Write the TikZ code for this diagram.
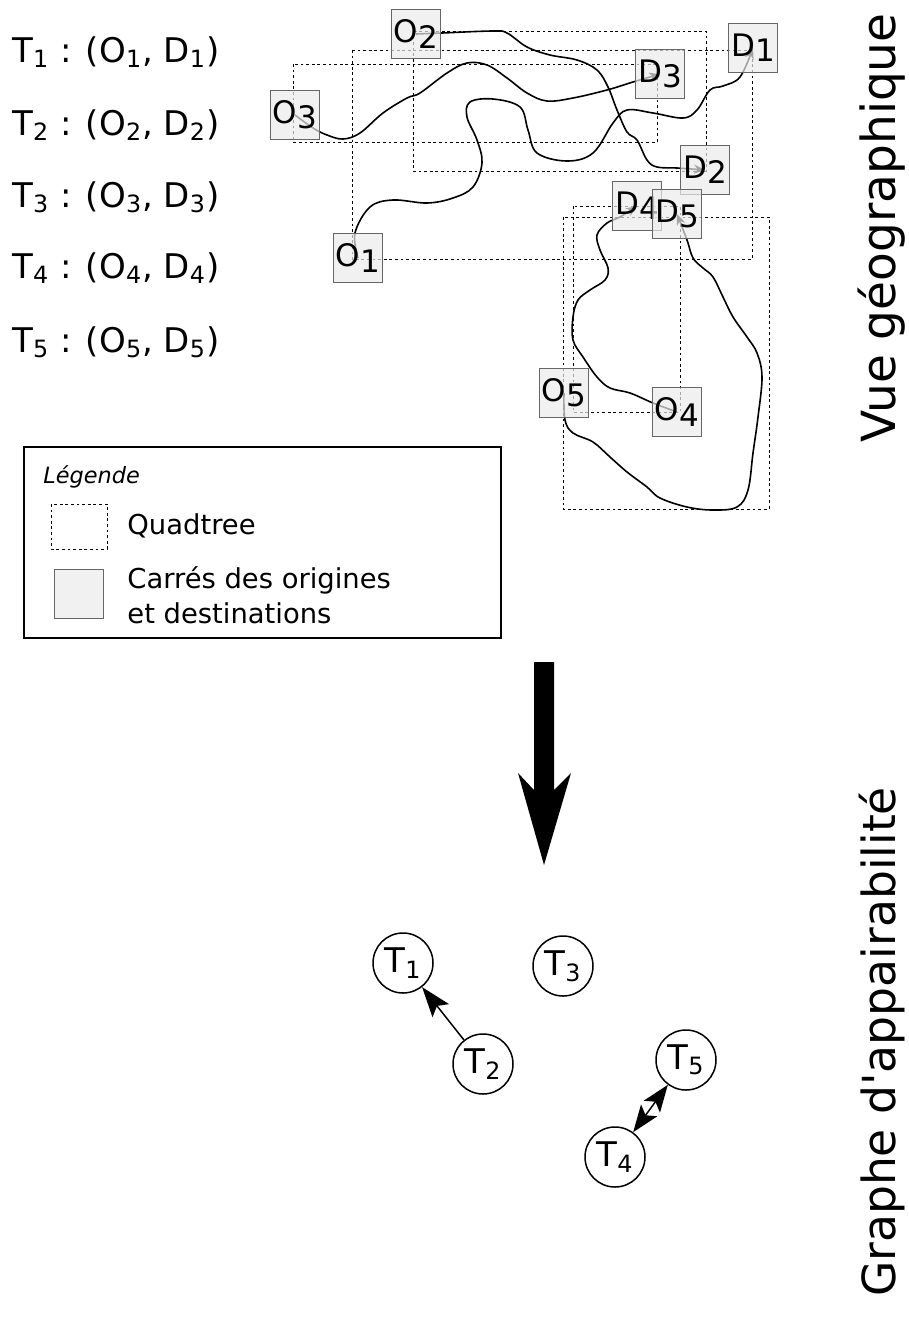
\documentclass[tikz,border=0pt]{standalone}
\usepackage{fontspec}
\setmainfont{DejaVu Sans}
\usetikzlibrary{arrows.meta,backgrounds}

\newcommand{\od}[2]{#1\raisebox{-0.17em}{#2}}

\begin{document}
\begin{tikzpicture}[
  x=0.5pt, y=-0.5pt,
  %% quadtree cells and O/D squares
  quad/.style   = {draw=black, line width=0.5pt, dash pattern=on 1.4pt off 1.4pt},
  odbox/.style  = {rectangle, draw=black!60, line width=0.5pt, fill=black!8,
                   fill opacity=0.7, text opacity=1, minimum size=24.5pt,
                   inner sep=0pt, font=\fontsize{15.5}{18}\selectfont},
  traj/.style   = {line width=0.8pt, -{Stealth[length=5.5pt,width=4.5pt]}},
  %% texts
  listtxt/.style = {anchor=base west, inner sep=0pt, font=\fontsize{17}{20}\selectfont},
  legtxt/.style  = {anchor=base west, inner sep=0pt, font=\fontsize{13.7}{17}\selectfont},
  side/.style    = {rotate=90, inner sep=0pt, font=\fontsize{23.5}{28}\selectfont},
  %% graph
  tnode/.style  = {circle, draw, line width=0.75pt, minimum size=30pt,
                   inner sep=0pt, font=\fontsize{17}{20}\selectfont},
  garr/.style   = {line width=0.75pt, -{Stealth[length=15pt,width=10.5pt,inset=3pt]}},
  garrb/.style  = {line width=0.75pt, {Stealth[length=13.5pt,width=10pt,inset=3pt]}-{Stealth[length=13.5pt,width=10pt,inset=3pt]}}
]
\useasboundingbox (0,0) rectangle (909,1318);

%% ---- Trip list ----
\node[listtxt] (L1) at (12,62)  {T\textsubscript{1} : (O\textsubscript{1}, D\textsubscript{1})};
\node[listtxt] (L2) at (12,135) {T\textsubscript{2} : (O\textsubscript{2}, D\textsubscript{2})};
\node[listtxt] (L3) at (12,207) {T\textsubscript{3} : (O\textsubscript{3}, D\textsubscript{3})};
\node[listtxt] (L4) at (12,278) {T\textsubscript{4} : (O\textsubscript{4}, D\textsubscript{4})};
\node[listtxt] (L5) at (12,352) {T\textsubscript{5} : (O\textsubscript{5}, D\textsubscript{5})};

%% ---- Origin / destination squares ----
\node[odbox] (O1) at (358,258) {\od{O}{1}};
\node[odbox] (O2) at (416,34)  {\od{O}{2}};
\node[odbox] (O3) at (295,115) {\od{O}{3}};
\node[odbox] (O4) at (677,412) {\od{O}{4}};
\node[odbox] (O5) at (564,393) {\od{O}{5}};
\node[odbox] (D1) at (753,48)  {\od{D}{1}};
\node[odbox] (D2) at (705,170) {\od{D}{2}};
\node[odbox] (D3) at (660,74)  {\od{D}{3}};
\node[odbox] (D4) at (637,206) {\od{D}{4}};
\node[odbox] (D5) at (677,214) {\od{D}{5}};

\begin{scope}[on background layer]
%% ---- Quadtree cells ----
\draw[quad] (352,50)  rectangle (752,259);
\draw[quad] (413,31)  rectangle (706,171);
\draw[quad] (293,64)  rectangle (657,142);
\draw[quad] (573,206) rectangle (680,412);
\draw[quad] (563,217) rectangle (769,509);

%% ---- Trajectories ----
\draw[traj] plot[smooth, tension=0.6] coordinates {(O1.center) (355,233) (370,207)
  (393,200) (427,203) (453,198) (473,187) (482,163) (477,140) (467,117) (470,102)
  (493,99) (520,107) (528,130) (537,153) (567,161) (593,153) (613,123) (627,110)
  (653,113) (683,118) (697,110) (710,90) (723,86) (740,77) (D1.center)};
\draw[traj] plot[smooth, tension=0.6] coordinates {(O2.center) (442,33) (493,31)
  (507,33) (527,47) (550,55) (577,60) (597,70) (608,87) (617,110) (627,132)
  (637,140) (647,160) (657,167) (677,168) (D2.center)};
\draw[traj] plot[smooth, tension=0.6] coordinates {(O3.center) (313,128) (327,135)
  (343,139) (360,133) (383,113) (407,98) (420,93) (447,73) (467,63) (487,65)
  (507,78) (527,93) (547,101) (573,98) (607,90) (633,82) (D3.center)};
\draw[traj] plot[smooth, tension=0.6] coordinates {(O4.center) (653,403) (630,393)
  (610,388) (597,377) (583,357) (573,340) (573,317) (578,300) (590,290) (605,280)
  (608,268) (600,250) (597,235) (607,223) (620,217) (D4.center)};
\draw[traj] plot[smooth, tension=0.6] coordinates {(O5.center) (565,420) (573,433)
  (593,442) (610,457) (627,472) (647,487) (660,498) (687,507) (713,510) (737,507)
  (748,490) (753,453) (758,417) (762,377) (757,353) (747,337) (733,317) (723,297)
  (713,277) (703,268) (693,258) (687,240) (D5.center)};
\end{scope}

%% ---- Legend ----
\draw[line width=0.6pt] (24,447) rectangle (501,638);
\node[anchor=base west, inner sep=0pt, font=\fontsize{11.2}{13}\selectfont\itshape]
  (LEG) at (43,483) {Légende};
\draw[quad] (51,504) rectangle (107,549);
\node[legtxt] (LQ) at (127,534) {Quadtree};
\node[odbox] (LSQ) at (78.5,593.5) {};
\node[legtxt] (LC1) at (127,588) {Carrés des origines};
\node[legtxt] (LC2) at (127,623) {et destinations};

%% ---- Side titles ----
\node[side] (VG) at (882,228)  {Vue géographique};
\node[side, font=\fontsize{22.8}{27}\selectfont] (GA) at (882,1042)
  {Graphe d\textquotesingle appairabilité};

%% ---- Big arrow ----
\fill (534,662) -- (554,662) -- (554,790) -- (571,773) -- (544,865)
  -- (518,773) -- (534,790) -- cycle;

%% ---- Pairability graph ----
\node[tnode] (G1) at (403,963)  {T\textsubscript{1}};
\node[tnode] (G2) at (483,1064) {T\textsubscript{2}};
\node[tnode] (G3) at (563,966)  {T\textsubscript{3}};
\node[tnode] (G4) at (615,1157) {T\textsubscript{4}};
\node[tnode] (G5) at (686,1060) {T\textsubscript{5}};

\draw[garr]  (G2) -- (G1);
\draw[garrb] (G4) -- (G5);

\end{tikzpicture}
\end{document}
